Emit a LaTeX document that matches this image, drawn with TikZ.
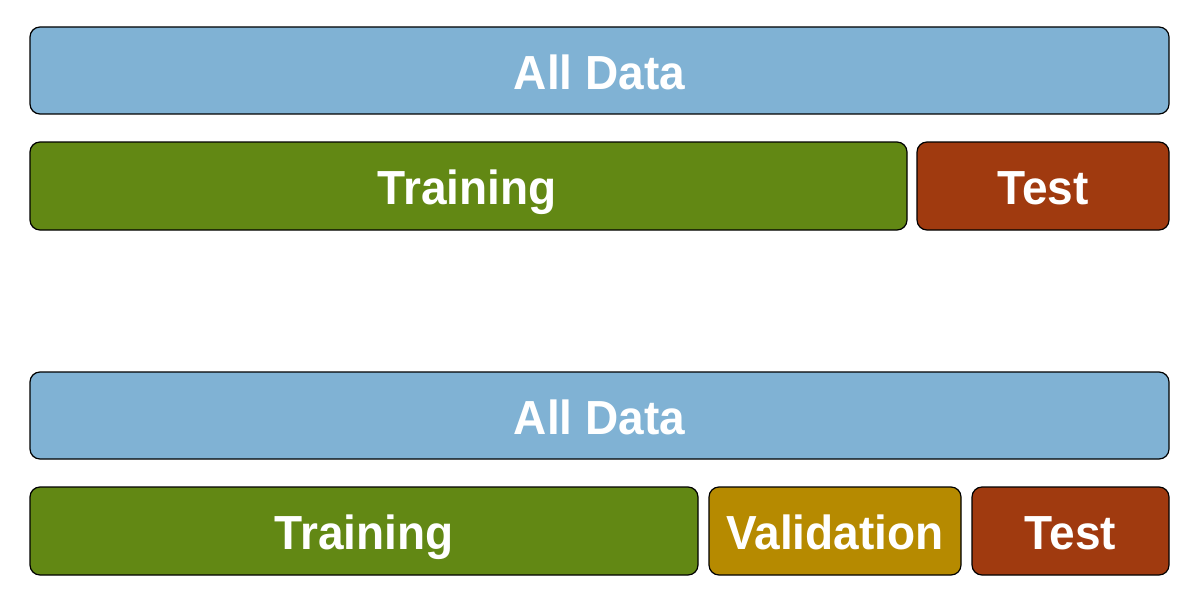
\documentclass[tikz,border=0pt]{standalone}
\usepackage{fontspec}
\usepackage{graphicx}
\setmainfont{Liberation Sans}
\definecolor{alldata}{RGB}{128,178,212}
\definecolor{train}{RGB}{98,136,20}
\definecolor{testc}{RGB}{160,58,15}
\definecolor{valc}{RGB}{182,138,0}
\newcommand{\lbltext}[1]{\scalebox{1}[1.04]{#1}}
\tikzset{
  part/.style={draw=black, line width=1.2pt, rounded corners=10pt},
  lbl/.style={text=white, font=\fontsize{46}{50}\selectfont\bfseries, anchor=base, inner sep=0pt},
}
\begin{document}
\begin{tikzpicture}[x=1pt,y=-1pt]
\useasboundingbox (0,0) rectangle (1190,591);
% top group
\path[part, fill=alldata] (30,27) rectangle (1169,114);
\node[lbl] (a1) at (599.5,89.5) {\lbltext{All Data}};
\path[part, fill=train] (30,142) rectangle (907,230);
\node[lbl] (t1) at (467,204.5) {\lbltext{Training}};
\path[part, fill=testc] (917,142) rectangle (1169,230);
\node[lbl] (s1) at (1043,204.5) {\lbltext{Test}};
% bottom group
\path[part, fill=alldata] (30,372) rectangle (1169,459);
\node[lbl] (a2) at (599.5,434.5) {\lbltext{All Data}};
\path[part, fill=train] (30,487) rectangle (698,575);
\node[lbl] (t2) at (364,549.5) {\lbltext{Training}};
\path[part, fill=valc] (709,487) rectangle (961,575);
\node[lbl] (v2) at (835,549.5) {\lbltext{Validation}};
\path[part, fill=testc] (972,487) rectangle (1169,575);
\node[lbl] (s2) at (1070.5,549.5) {\lbltext{Test}};
\end{tikzpicture}
\end{document}
